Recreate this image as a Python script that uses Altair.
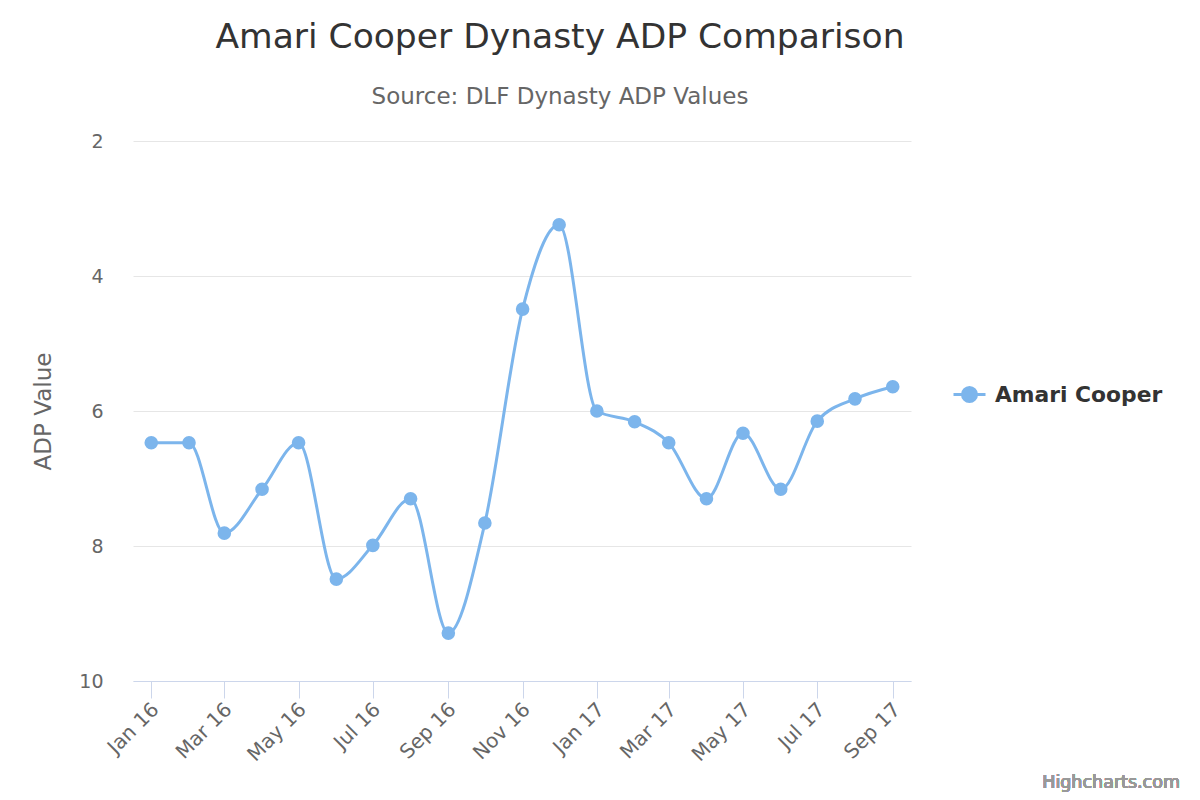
import altair as alt
import pandas as pd

months = ["2016-01-01", "2016-02-01", "2016-03-01", "2016-04-01", "2016-05-01",
          "2016-06-01", "2016-07-01", "2016-08-01", "2016-09-01", "2016-10-01",
          "2016-11-01", "2016-12-01", "2017-01-01", "2017-02-01", "2017-03-01",
          "2017-04-01", "2017-05-01", "2017-06-01", "2017-07-01", "2017-08-01",
          "2017-09-01"]
adp = [6.47, 6.47, 7.81, 7.16, 6.47, 8.49, 7.99, 7.30, 9.29, 7.66, 4.49, 3.24,
       6.00, 6.16, 6.47, 7.30, 6.33, 7.16, 6.15, 5.82, 5.64]
series = "Amari Cooper"
x_ticks = ["2016-01-01", "2016-03-01", "2016-05-01", "2016-07-01", "2016-09-01",
           "2016-11-01", "2017-01-01", "2017-03-01", "2017-05-01", "2017-07-01",
           "2017-09-01"]
y_ticks = [2, 4, 6, 8, 10]

df = pd.DataFrame({"month": months, "adp": adp, "player": [series] * len(months)})

FONT = "DejaVu Sans"
BLUE = "#7cb5ec"

x_enc = alt.X(
    "month:T",
    scale=alt.Scale(type="utc",
                    domain=[alt.DateTime(year=2015, month=12, date=17, utc=True),
                            alt.DateTime(year=2017, month=9, date=16, utc=True)]),
    axis=alt.Axis(
        title=None,
        values=[alt.DateTime(year=int(d[:4]), month=int(d[5:7]), date=1, utc=True) for d in x_ticks],
        labelExpr="utcFormat(datum.value, '%b %y')",
        labelAngle=-45, labelAlign="right", labelBaseline="middle",
        labelFontSize=20, labelColor="#666666", labelFont=FONT, labelPadding=8,
        labelOffset=4,
        tickColor="#ccd6eb", tickSize=17, domainColor="#ccd6eb", grid=False,
        labelOverlap=False,
    ),
)
y_enc = alt.Y(
    "adp:Q",
    scale=alt.Scale(domain=[2, 10], reverse=True, nice=False, zero=False),
    axis=alt.Axis(
        title="ADP Value", values=y_ticks, format="d",
        labelFontSize=19, labelColor="#666666", labelFont=FONT, labelPadding=30,
        titleFontSize=23, titleColor="#666666", titleFont=FONT, titleFontWeight="normal",
        titleX=-90, titleY=270, titleAlign="center", titleBaseline="middle", titleAngle=-90,
        tickSize=0, ticks=False, domain=False, gridColor="#e6e6e6", gridWidth=1,
    ),
)

legend_path = ("M-1,0L1,0M-0.44,0A0.44,0.44,0,1,1,0.44,0"
               "A0.44,0.44,0,1,1,-0.44,0Z")

line = alt.Chart(df).mark_line(interpolate="monotone", strokeWidth=3).encode(
    x=x_enc, y=y_enc,
    color=alt.Color("player:N", scale=alt.Scale(range=[BLUE]),
                    legend=alt.Legend(
                        title=None, orient="none", legendX=819, legendY=236,
                        symbolType=legend_path, symbolSize=1024,
                        symbolStrokeWidth=3, symbolFillColor=BLUE,
                        symbolStrokeColor=BLUE, labelFontSize=21.8,
                        labelFontWeight="bold", labelColor="#333333",
                        labelFont=FONT, labelOffset=8, padding=0,
                        labelLimit=400)),
)
points = alt.Chart(df).mark_circle(size=185, opacity=1, color=BLUE).encode(
    x="month:T", y="adp:Q"
)
credits = alt.Chart(df).mark_text(
    align="right", baseline="middle", fontSize=17.5, color="#999999", font=FONT
).encode(x=alt.value(1047), y=alt.value(642), text=alt.value("Highcharts.com"))

chart = alt.layer(line, points, credits).properties(
    width=778, height=540,
    padding={"left": 133, "top": 141, "right": 289, "bottom": 119},
    autosize=alt.AutoSizeParams(type="none"),
    background="white",
    title=alt.TitleParams(
        text="Amari Cooper Dynasty ADP Comparison",
        subtitle="Source: DLF Dynasty ADP Values",
        anchor="middle", frame="group", dx=38, offset=22,
        font=FONT, fontSize=34.5, fontWeight="normal", color="#333333",
        subtitleFont=FONT, subtitleFontSize=23, subtitleColor="#666666",
        subtitlePadding=31,
    ),
).configure_view(stroke=None)

chart.save("out.html", embed_options={"renderer": "svg", "actions": False})
